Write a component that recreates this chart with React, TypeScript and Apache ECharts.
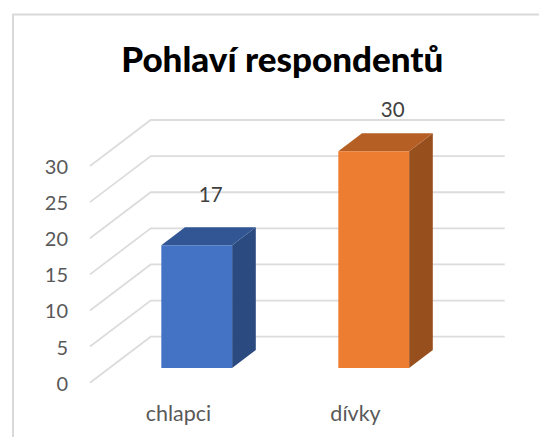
import React, { useEffect, useRef } from "react";
import * as echarts from "echarts";

const titleText = "Pohlaví respondentů";
const categories = ["chlapci", "dívky"];
const respondents = [17, 30];
const gridTicks = [0, 5, 10, 15, 20, 25, 30];

const frontColors = ["#4472c4", "#ed7d31"];
const topColors = ["#325693", "#b65f24"];
const sideColors = ["#2b4a80", "#984f1e"];
const labelLifts = [51, 42];
const labelShifts = [14, 19];

const DEPTH_X = 60.7;
const DEPTH_Y = 46;
const BAR_FRONT = 0.32;
const BAR_BACK = 0.71;
const BAR_WIDTH = 0.4;
const BAR_NUDGE = -1.2;
const FONT = "Lato";

export default function App() {
  const ref = useRef<HTMLDivElement>(null);
  useEffect(() => {
    const chart = echarts.init(ref.current!, undefined, { renderer: "svg" });
    chart.setOption({
      animation: false,
      backgroundColor: "#ffffff",
      title: {
        text: titleText,
        left: 277.3,
        top: 35,
        textAlign: "center",
        textStyle: { fontFamily: FONT, fontWeight: 900, fontSize: 35, color: "#000000" },
      },
      graphic: [
        {
          type: "rect",
          silent: true,
          shape: { x: 13, y: 14.5, width: 600, height: 500 },
          style: { fill: "none", stroke: "#d9d9d9", lineWidth: 2 },
        },
      ],
      grid: { left: 90, right: 95, top: 166, bottom: 54.3 },
      xAxis: {
        type: "category",
        data: categories,
        axisLine: { show: false },
        axisTick: { show: false },
        splitLine: { show: false },
        axisLabel: { fontFamily: FONT, fontSize: 21.5, color: "#595959", margin: 19 },
      },
      yAxis: {
        type: "value",
        min: 0,
        max: 30,
        interval: 5,
        axisLine: { show: false },
        axisTick: { show: false },
        splitLine: { show: false },
        axisLabel: { fontFamily: FONT, fontSize: 20, color: "#595959", margin: 22 },
      },
      series: [
        {
          type: "custom",
          silent: true,
          clip: false,
          z: 1,
          encode: { x: 0, y: 1 },
          data: gridTicks.map((v) => [0, v]),
          renderItem: (params: any, api: any) => {
            const sys = params.coordSys;
            const y = api.coord([0, api.value(1)])[1];
            return {
              type: "polyline",
              shape: {
                points: [
                  [sys.x, y],
                  [sys.x + DEPTH_X, y - DEPTH_Y],
                  [sys.x + sys.width + DEPTH_X, y - DEPTH_Y],
                ],
              },
              style: { fill: "none", stroke: "#dcdcdc", lineWidth: 1.8 },
            };
          },
        },
        {
          type: "custom",
          silent: true,
          clip: false,
          z: 2,
          encode: { x: 0, y: 1 },
          data: respondents.map((v, i) => [i, v]),
          renderItem: (_params: any, api: any) => {
            const i = api.value(0);
            const value = api.value(1);
            const [cx, yTopPlane] = api.coord([i, value]);
            const yBasePlane = api.coord([i, 0])[1];
            const band = api.size([1, 0])[0];
            const w = band * BAR_WIDTH;
            const x0 = cx - w / 2 + DEPTH_X * BAR_FRONT + BAR_NUDGE;
            const x1 = x0 + w;
            const yTop = yTopPlane - DEPTH_Y * BAR_FRONT;
            const yBase = yBasePlane - DEPTH_Y * BAR_FRONT;
            const dx = DEPTH_X * (BAR_BACK - BAR_FRONT);
            const dy = DEPTH_Y * (BAR_BACK - BAR_FRONT);
            return {
              type: "group",
              children: [
                {
                  type: "polygon",
                  shape: { points: [[x1, yTop], [x1 + dx, yTop - dy], [x1 + dx, yBase - dy], [x1, yBase]] },
                  style: { fill: sideColors[i] },
                },
                {
                  type: "polygon",
                  shape: { points: [[x0, yTop], [x0 + dx, yTop - dy], [x1 + dx, yTop - dy], [x1, yTop]] },
                  style: { fill: topColors[i] },
                },
                {
                  type: "rect",
                  shape: { x: x0, y: yTop, width: w, height: yBase - yTop },
                  style: { fill: frontColors[i] },
                },
                {
                  type: "text",
                  style: {
                    text: String(value),
                    x: (x0 + x1) / 2 + labelShifts[i],
                    y: yTop - labelLifts[i],
                    align: "center",
                    verticalAlign: "middle",
                    fontFamily: FONT,
                    fontSize: 20.5,
                    fill: "#404040",
                  },
                },
              ],
            };
          },
        },
      ],
    });
    return () => chart.dispose();
  }, []);
  return <div ref={ref} style={{ position: "absolute", left: 0, top: 0, width: 539, height: 437 }} />;
}
